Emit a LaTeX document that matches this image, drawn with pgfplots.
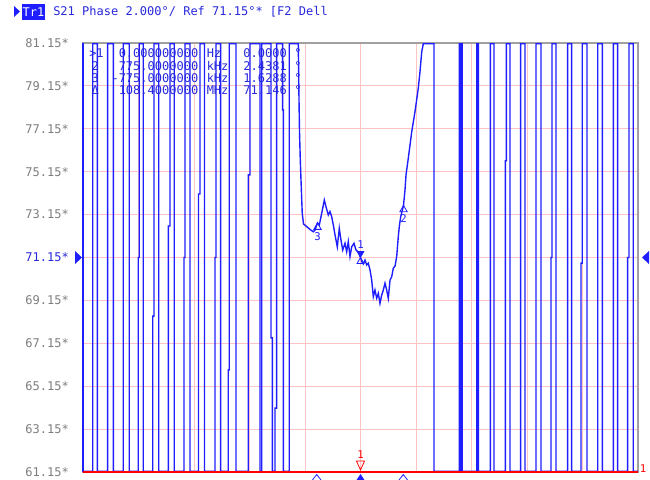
\documentclass[border=0pt]{standalone}
\usepackage{pgfplots}
\pgfplotsset{compat=1.18}
\usepackage{fontspec}
\setmainfont{DejaVu Sans Mono}
\definecolor{trc}{RGB}{30,30,255}
\definecolor{txtb}{RGB}{40,40,220}
\definecolor{gridp}{RGB}{255,195,195}
\definecolor{tickg}{RGB}{125,125,125}
\definecolor{frameg}{RGB}{160,160,160}
\begin{document}
\begin{tikzpicture}[x=0.75pt,y=-0.75pt,font=\fontsize{9}{10}\selectfont]
\path[use as bounding box] (0,0) rectangle (650,479);
\begin{axis}[at={(62.25pt,-32.25pt)}, anchor=north west, scale only axis,
  width=416.25pt, height=321.75pt,
  xmin=103.4, xmax=113.4, ymin=61.15, ymax=81.15,
  xtick={104.4,105.4,106.4,107.4,108.4,109.4,110.4,111.4,112.4}, xticklabels={},
  ytick={61.15,63.15,65.15,67.15,69.15,71.15,73.15,75.15,77.15,79.15,81.15},
  yticklabels={61.15*,63.15*,65.15*,67.15*,69.15*,\textcolor{txtb}{71.15*},73.15*,75.15*,77.15*,79.15*,81.15*},
  yticklabel style={text=tickg, inner sep=0pt, xshift=-10.5pt, font=\fontsize{9}{10}\selectfont},
  major tick length=0pt,
  grid=major, major grid style={draw=gridp, line width=0.75pt},
  axis line style={draw=frameg, line width=0.9pt},
]
\addplot[draw=trc, line width=1.05pt, line join=miter] coordinates {
(103.400,61.18) (103.575,61.18) (103.575,81.12) (103.658,81.12) (103.658,61.18)
(103.845,61.18) (103.845,81.12) (103.946,81.12) (103.946,61.18)
(104.126,61.18) (104.126,81.12) (104.234,81.12) (104.234,61.18)
(104.396,61.18) (104.396,71.15) (104.414,71.15) (104.414,81.12) (104.486,81.12) (104.486,61.18)
(104.656,61.18) (104.656,68.42) (104.679,68.42) (104.679,81.12) (104.764,81.12) (104.764,61.18)
(104.937,61.18) (104.937,72.62) (104.968,72.62) (104.968,81.12) (105.045,81.12) (105.045,61.18)
(105.220,61.18) (105.220,71.15) (105.238,71.15) (105.238,81.12) (105.328,81.12) (105.328,61.18)
(105.481,61.18) (105.481,74.11) (105.508,74.11) (105.508,81.12) (105.589,81.12) (105.589,61.18)
(105.778,61.18) (105.778,71.15) (105.796,71.15) (105.796,81.12) (105.881,81.12) (105.881,61.18)
(106.018,61.18) (106.018,65.91) (106.036,65.91) (106.036,81.12) (106.157,81.12) (106.157,61.18)
(106.378,61.18) (106.378,75.00) (106.409,75.00) (106.409,81.12) (106.589,81.12) (106.589,61.18)
(106.620,61.18) (106.620,81.12) (106.787,81.12) (106.787,67.40) (106.811,67.40) (106.811,61.18)
(106.859,61.18) (106.859,64.13) (106.890,64.13) (106.890,81.12) (106.998,81.12) (106.998,78.03)
(107.009,78.03) (107.009,61.18) (107.117,61.18) (107.117,81.12) (107.279,81.12)
(107.292,78.49) (107.301,77.01) (107.315,75.70) (107.328,74.76) (107.350,73.22) (107.373,72.71)
(107.431,72.59) (107.490,72.46) (107.550,72.35) (107.580,72.43) (107.625,72.76) (107.658,72.67)
(107.701,73.21) (107.748,73.83) (107.778,73.52) (107.820,73.13) (107.850,73.29) (107.881,73.05)
(107.910,72.67) (107.941,72.20) (107.982,71.65) (108.018,72.51) (108.043,72.05) (108.079,71.50)
(108.121,71.81) (108.151,71.42) (108.180,71.89) (108.211,71.19) (108.241,71.65) (108.283,71.81)
(108.319,71.50) (108.360,71.41) (108.400,71.15) (108.427,70.94) (108.451,70.85) (108.481,71.03)
(108.512,70.80) (108.541,70.88) (108.571,70.57) (108.602,70.10) (108.631,69.32) (108.661,69.63)
(108.692,69.25) (108.721,69.48) (108.751,69.01) (108.782,69.40) (108.811,69.63) (108.841,69.95)
(108.872,69.63) (108.901,69.25) (108.932,70.10) (108.962,70.25) (108.991,70.65) (109.022,70.75)
(109.052,71.19) (109.081,72.12) (109.099,72.59) (109.124,73.05) (109.175,73.58) (109.202,74.30)
(109.220,75.00) (109.261,75.77) (109.323,77.01) (109.382,77.95) (109.441,79.04) (109.472,79.81)
(109.503,80.74) (109.532,81.12)
(109.724,81.12) (109.724,61.18) (110.180,61.18) (110.180,81.12) (110.198,81.12) (110.198,61.18)
(110.216,61.18) (110.216,81.12) (110.234,81.12) (110.234,61.18)
(110.494,61.18) (110.494,81.12) (110.523,81.12) (110.523,61.18)
(110.739,61.18) (110.739,81.12) (110.805,81.12) (110.805,61.18)
(111.009,61.18) (111.009,75.66) (111.027,75.66) (111.027,81.12) (111.094,81.12) (111.094,61.18)
(111.286,61.18) (111.286,81.12) (111.364,81.12) (111.364,61.18)
(111.562,61.18) (111.562,81.12) (111.652,81.12) (111.652,61.18)
(111.832,61.18) (111.832,71.15) (111.851,71.15) (111.851,81.12) (111.923,81.12) (111.923,61.18)
(112.133,61.18) (112.133,81.12) (112.205,81.12) (112.205,61.18)
(112.373,61.18) (112.373,70.89) (112.396,70.89) (112.396,81.12) (112.481,81.12) (112.481,61.18)
(112.674,61.18) (112.674,81.12) (112.757,81.12) (112.757,61.18)
(112.955,61.18) (112.955,81.12) (113.034,81.12) (113.034,61.18)
(113.214,61.18) (113.214,71.15) (113.238,71.15) (113.238,81.12) (113.315,81.12) (113.315,61.18)
(113.400,61.18)
};
% markers 2 and 3 (hollow triangles below the trace point)
\addplot[only marks, trc, mark=triangle, mark size=3.2pt, mark options={yshift=-3.2pt, line width=0.6pt}]
  coordinates {(107.625,72.76) (109.175,73.58)};
% marker 1 (pointing down, above the point) and reference delta
\addplot[only marks, trc, mark=triangle*, mark size=3pt, mark options={yshift=3pt, rotate=180}]
  coordinates {(108.400,71.15)};
\addplot[only marks, trc, mark=triangle, mark size=3pt, mark options={yshift=-3pt, line width=0.6pt}]
  coordinates {(108.400,71.15)};
\node[text=trc, inner sep=0pt, font=\fontsize{8}{8}\selectfont] at (axis cs:107.625,72.76) [yshift=-10pt] {3};
\node[text=trc, inner sep=0pt, font=\fontsize{8}{8}\selectfont] at (axis cs:109.175,73.58) [yshift=-10pt] {2};
\node[text=trc, inner sep=0pt, font=\fontsize{8}{8}\selectfont] at (axis cs:108.400,71.15) [yshift=10pt] {1};
\end{axis}
% left frame blue and bottom red line
\draw[trc, line width=0.9pt] (83,43) -- (83,472);
\draw[red, line width=0.9pt] (83,472) -- (638,472);
% header
\fill[trc] (14,6) -- (20,11.5) -- (14,17) -- cycle;
\fill[trc] (22,4) rectangle (45,20);
\node[text=white, inner sep=0pt] at (33.5,12) {Tr1};
\node[text=txtb, anchor=west, inner sep=0pt] at (53,12) {S21 Phase 2.000°/ Ref 71.15°* [F2 Dell};
% marker table
\begin{scope}[every node/.style={text=txtb, inner sep=0pt}]
\node[anchor=west] at (89,53) {>1};
\node[anchor=east] at (99,66) {2};
\node[anchor=east] at (99,78) {3};
\node[anchor=east] at (99,90) {Δ};
\node[anchor=east] at (198.5,53) {0.000000000};
\node[anchor=east] at (198.5,66) {775.0000000};
\node[anchor=east] at (198.5,78) {-775.0000000};
\node[anchor=east] at (198.5,90) {108.4000000};
\node[anchor=west] at (206.5,53) {Hz};
\node[anchor=west] at (206.5,66) {kHz};
\node[anchor=west] at (206.5,78) {kHz};
\node[anchor=west] at (206.5,90) {MHz};
\node[anchor=east] at (287,53) {0.0000};
\node[anchor=east] at (287,66) {2.4381};
\node[anchor=east] at (287,78) {1.6288};
\node[anchor=east] at (287,90) {71.146};
\node[anchor=west] at (294,53) {°};
\node[anchor=west] at (294,66) {°};
\node[anchor=west] at (294,78) {°};
\node[anchor=west] at (294,90) {°};
\end{scope}
% reference level arrows
\fill[trc] (75,251) -- (82,257.5) -- (75,264) -- cycle;
\fill[trc] (649,251) -- (642,257.5) -- (649,264) -- cycle;
% stimulus markers at the bottom
\node[text=red, inner sep=0pt, font=\fontsize{8}{8}\selectfont] at (360.5,455) {1};
\draw[red, line width=0.6pt] (356.5,461) -- (364.5,461) -- (360.5,470) -- cycle;
\draw[trc, line width=0.6pt] (312.5,480) -- (316.7,474.5) -- (321,480);
\fill[trc] (356.5,480) -- (360.5,474) -- (364.5,480) -- cycle;
\draw[trc, line width=0.6pt] (399,480) -- (403.3,474.5) -- (407.5,480);
\node[text=red, inner sep=0pt, font=\fontsize{8}{8}\selectfont] at (643,469) {1};
\end{tikzpicture}
\end{document}
